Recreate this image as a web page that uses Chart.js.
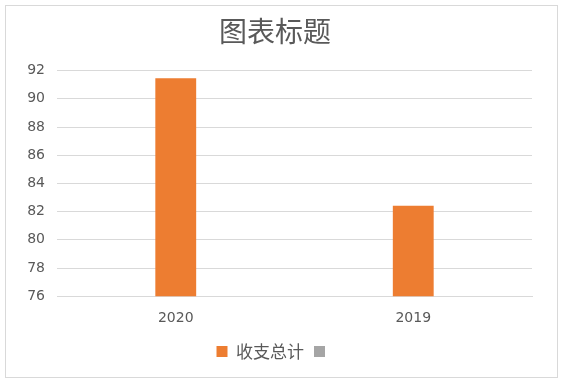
<!DOCTYPE html>
<html>
<head>
<meta charset="utf-8">
<script src="https://cdn.jsdelivr.net/npm/chart.js@4/dist/chart.umd.min.js"></script>
<style>
  html, body { margin: 0; padding: 0; background: #fff; }
  #wrap { position: relative; width: 563px; height: 383px; }
  #frame { position: absolute; left: 5px; top: 5px; width: 551px; height: 371px; border: 1px solid #d9d9d9; pointer-events: none; }
</style>
</head>
<body>
<div id="wrap">
  <canvas id="chart" width="563" height="383"></canvas>
  <div id="frame"></div>
</div>
<script>
var categories = ['2020', '2019'];
var totals = [91.45, 82.42];
var emptySeries = [null, null];
var yTicks = { min: 76, max: 92, step: 2 };

var textColor = '#595959';
var gridColor = '#d9d9d9';

var ctx = document.getElementById('chart').getContext('2d');
new Chart(ctx, {
  type: 'bar',
  data: {
    labels: categories,
    datasets: [{
      label: '收支总计',
      data: totals,
      backgroundColor: '#ED7D31',
      skipNull: true
    }, {
      label: '',
      data: emptySeries,
      backgroundColor: '#A5A5A5',
      skipNull: true
    }]
  },
  options: {
    responsive: false,
    animation: false,
    devicePixelRatio: 1,
    layout: { padding: { left: 18, right: 31, top: 5, bottom: 13 } },
    datasets: {
      bar: { categoryPercentage: 1, barPercentage: 0.172 }
    },
    plugins: {
      title: {
        display: true,
        text: '图表标题',
        color: textColor,
        font: { family: '"Noto Sans CJK SC", sans-serif', size: 28, weight: 'normal' },
        padding: { top: 10, bottom: 22 }
      },
      legend: {
        position: 'bottom',
        labels: {
          color: textColor,
          boxWidth: 11,
          boxHeight: 11,
          padding: 10,
          font: { family: '"Noto Sans CJK SC", sans-serif', size: 17 }
        }
      },
      tooltip: { enabled: false }
    },
    scales: {
      x: {
        grid: { display: false },
        border: { color: gridColor },
        ticks: {
          color: textColor,
          padding: 6,
          font: { family: '"DejaVu Sans", sans-serif', size: 14 }
        }
      },
      y: {
        min: yTicks.min,
        max: yTicks.max,
        border: { display: false },
        grid: { color: gridColor, drawTicks: false },
        ticks: {
          stepSize: yTicks.step,
          color: textColor,
          padding: 12,
          font: { family: '"DejaVu Sans", sans-serif', size: 14 }
        },
        afterFit: function (scale) { scale.width = 39; }
      }
    }
  }
});
</script>
</body>
</html>
